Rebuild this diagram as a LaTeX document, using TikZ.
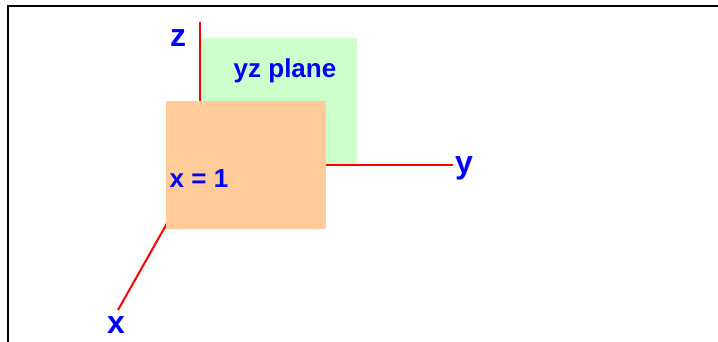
\documentclass[tikz,border=0pt]{standalone}
\usepackage{fontspec}
\setmainfont{Liberation Sans}

\definecolor{planegreen}{HTML}{CCFFCC}
\definecolor{planeorange}{HTML}{FFCC99}

\tikzset{
  axislabel/.style={text=blue,inner sep=0pt,anchor=base,font=\bfseries\fontsize{32}{36}\selectfont},
  planelabel/.style={text=blue,inner sep=0pt,anchor=base,font=\bfseries\fontsize{26}{30}\selectfont},
  axis/.style={red,line width=2pt}
}

\begin{document}
\begin{tikzpicture}[x=1pt,y=-1pt]
  \useasboundingbox (0,0) rectangle (718,341);
  % frame
  \draw[line width=2.2pt] (8,350) -- (8,6) -- (725,6);
  % yz plane
  \fill[planegreen] (201,38) rectangle (357,165);
  \node[planelabel] (yzlbl) at (285,77) {yz plane};
  % axes
  \coordinate (origin) at (200,165);
  \coordinate (zend) at (200,22);
  \coordinate (yend) at (453,165);
  \coordinate (xend) at (118,310);
  \draw[axis] (origin) -- (zend);
  \draw[axis] (origin) -- (yend);
  \draw[axis] (origin) -- (xend);
  % x = 1 plane
  \fill[planeorange] (166,101) rectangle (326,229);
  \node[planelabel] (xonelbl) at (199,187.5) {x = 1};
  % axis labels
  \node[axislabel] (zlbl) at (178,46) {z};
  \node[axislabel] (ylbl) at (464,173.5) {y};
  \node[axislabel] (xlbl) at (116,333) {x};
\end{tikzpicture}
\end{document}
